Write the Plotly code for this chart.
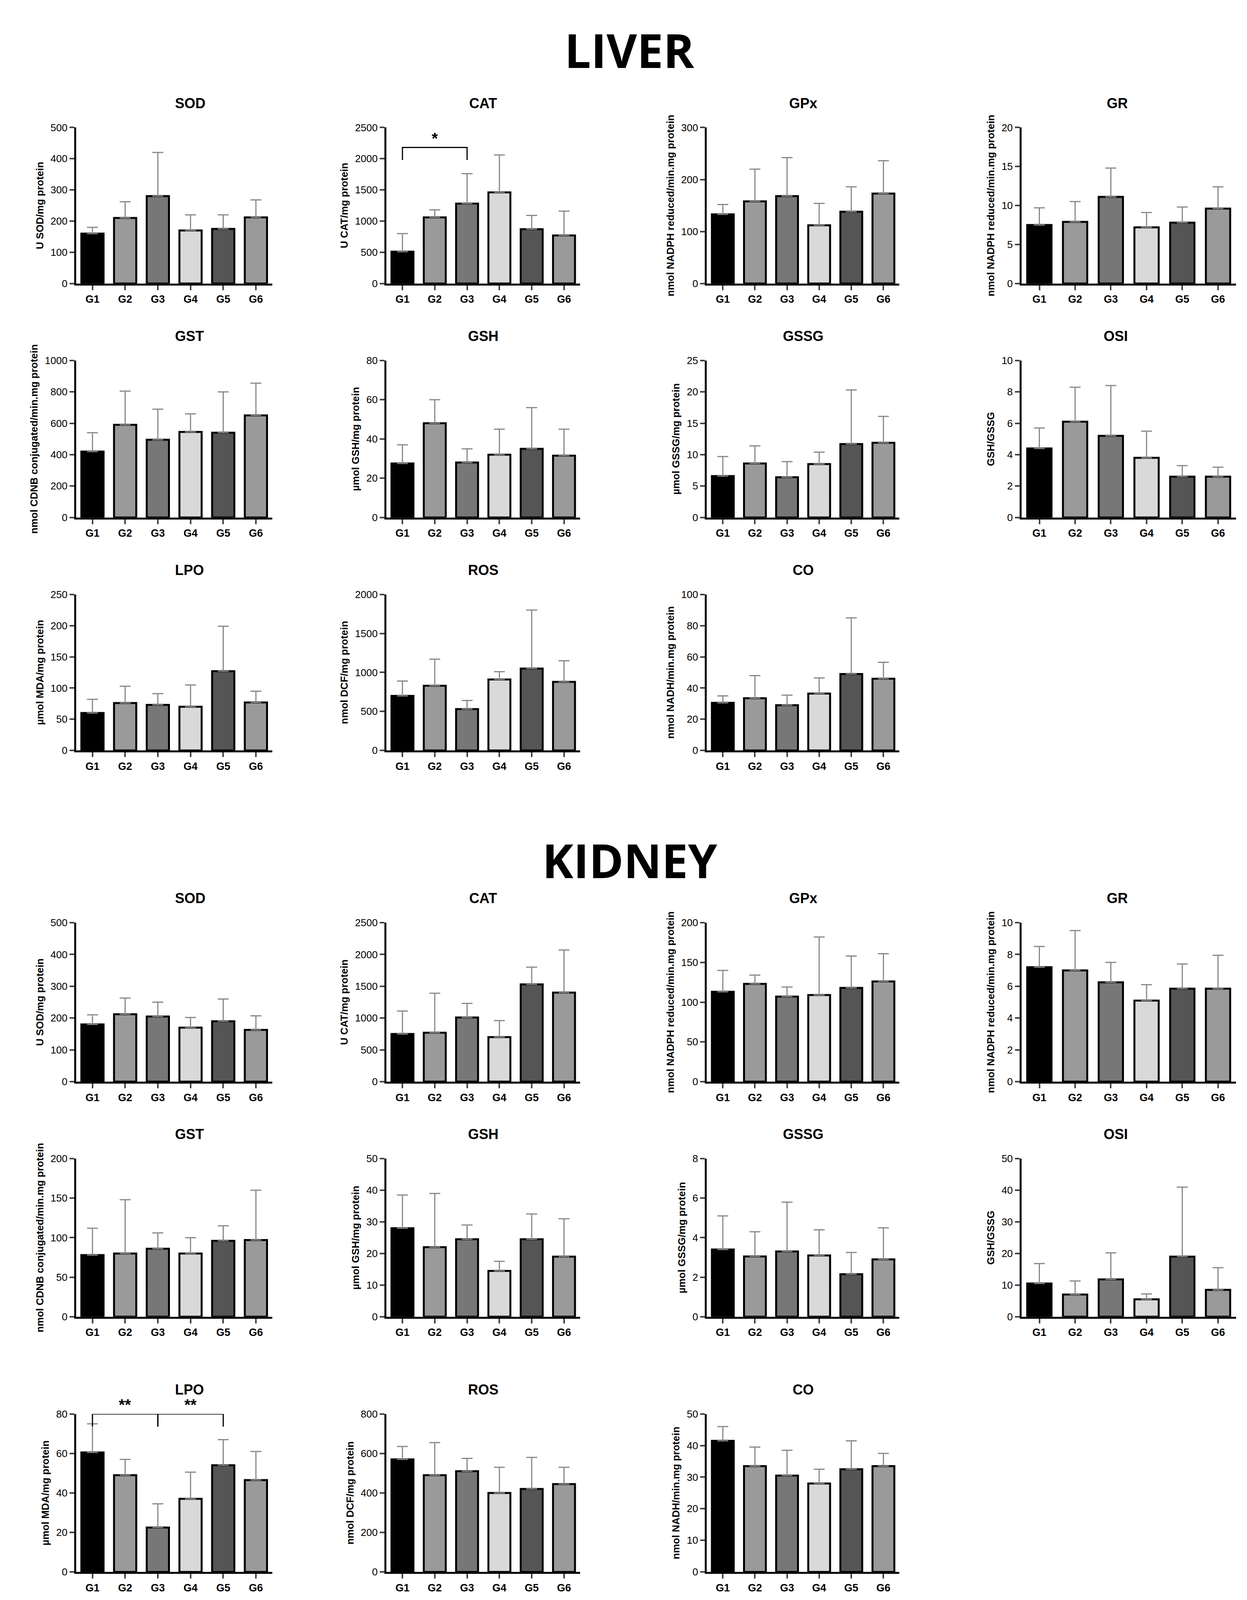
import plotly.graph_objects as go

groups = ['G1', 'G2', 'G3', 'G4', 'G5', 'G6']
bar_colors = ['#000000', '#9a9a9a', '#777777', '#d9d9d9', '#555555', '#9a9a9a']

# liver: (title, y label, means, mean+sd, y max, tick step)
liver = [
    ('SOD', 'U SOD/mg protein', [160, 210, 280, 170, 175, 212], [180, 262, 420, 220, 220, 268], 500, 100),
    ('CAT', 'U CAT/mg protein', [510, 1060, 1280, 1460, 870, 770], [800, 1180, 1760, 2060, 1090, 1160], 2500, 500),
    ('GPx', 'nmol NADPH reduced/min.mg protein', [133, 158, 168, 112, 138, 173], [152, 220, 242, 154, 186, 236], 300, 100),
    ('GR', 'nmol NADPH reduced/min.mg protein', [7.5, 7.9, 11.1, 7.2, 7.8, 9.6], [9.7, 10.5, 14.8, 9.1, 9.8, 12.4], 20, 5),
    ('GST', 'nmol CDNB conjugated/min.mg protein', [420, 590, 495, 545, 540, 650], [540, 805, 690, 660, 800, 855], 1000, 200),
    ('GSH', 'µmol GSH/mg protein', [27.5, 48, 28, 32, 35, 31.5], [37, 60, 35, 45, 56, 45], 80, 20),
    ('GSSG', 'µmol GSSG/mg protein', [6.6, 8.6, 6.4, 8.5, 11.7, 11.9], [9.7, 11.4, 8.9, 10.4, 20.3, 16.1], 25, 5),
    ('OSI', 'GSH/GSSG', [4.4, 6.1, 5.2, 3.8, 2.6, 2.6], [5.7, 8.3, 8.4, 5.5, 3.3, 3.2], 10, 2),
    ('LPO', 'µmol MDA/mg protein', [60, 76, 73, 70, 127, 77], [82, 103, 91, 105, 199, 95], 250, 50),
    ('ROS', 'nmol DCF/mg protein', [700, 830, 530, 910, 1050, 880], [890, 1170, 640, 1010, 1800, 1150], 2000, 500),
    ('CO', 'nmol NADH/min.mg protein', [30.5, 33.5, 29, 36.5, 49, 46], [35, 48, 35.5, 46.5, 85, 56.5], 100, 20),
]

kidney = [
    ('SOD', 'U SOD/mg protein', [180, 212, 205, 170, 190, 163], [210, 263, 250, 202, 260, 207], 500, 100),
    ('CAT', 'U CAT/mg protein', [750, 770, 1010, 700, 1530, 1400], [1110, 1390, 1230, 960, 1800, 2070], 2500, 500),
    ('GPx', 'nmol NADPH reduced/min.mg protein', [113, 123, 107, 109, 118, 126], [140, 134, 119, 182, 158, 161], 200, 50),
    ('GR', 'nmol NADPH reduced/min.mg protein', [7.2, 7.0, 6.25, 5.1, 5.85, 5.85], [8.5, 9.5, 7.5, 6.1, 7.4, 7.95], 10, 2),
    ('GST', 'nmol CDNB conjugated/min.mg protein', [78, 80, 86, 80, 96, 97], [112, 148, 106, 100, 115, 160], 200, 50),
    ('GSH', 'µmol GSH/mg protein', [28, 22, 24.5, 14.5, 24.5, 19], [38.5, 39, 29, 17.5, 32.5, 31], 50, 10),
    ('GSSG', 'µmol GSSG/mg protein', [3.4, 3.05, 3.3, 3.1, 2.15, 2.9], [5.1, 4.3, 5.8, 4.4, 3.25, 4.5], 8, 2),
    ('OSI', 'GSH/GSSG', [10.5, 7, 11.8, 5.5, 19, 8.5], [16.8, 11.3, 20.2, 7.2, 41, 15.5], 50, 10),
    ('LPO', 'µmol MDA/mg protein', [60.5, 49, 22.5, 37, 54, 46.5], [75, 57, 34.5, 50.5, 67, 61], 80, 20),
    ('ROS', 'nmol DCF/mg protein', [570, 490, 510, 400, 420, 445], [635, 655, 575, 530, 580, 530], 800, 200),
    ('CO', 'nmol NADH/min.mg protein', [41.5, 33.5, 30.5, 28, 32.5, 33.5], [46, 39.5, 38.5, 32.5, 41.5, 37.5], 50, 10),
]

# significance brackets: (section, panel index, from, to, level, label)
brackets = [
    ('liver', 1, 'G1', 'G3', 2180, '*'),
    ('kidney', 8, 'G1', 'G3', 80, '**'),
    ('kidney', 8, 'G3', 'G5', 80, '**'),
]

# layout in reference display coords (1088 x 1568)
W, H = 1088.0, 1568.0
col_x = [(64, 236), (336, 506), (617, 786), (893, 1081)]
liver_rows = [(117, 271), (347, 502), (578, 732)]
kidney_rows = [(902, 1059), (1135, 1291), (1387, 1543)]

font = 'Liberation Sans'
fig = go.Figure()
shapes = []
annotations = []
n = 0

for sec_name, panels, rows in [('liver', liver, liver_rows), ('kidney', kidney, kidney_rows)]:
    for i, (title, ylab, means, tops, ymax, dt) in enumerate(panels):
        n += 1
        r, c = divmod(i, 4)
        x0, x1 = col_x[c]
        top, bot = rows[r]
        xa = 'xaxis' if n == 1 else f'xaxis{n}'
        ya = 'yaxis' if n == 1 else f'yaxis{n}'
        xr = 'x' if n == 1 else f'x{n}'
        yr = 'y' if n == 1 else f'y{n}'
        fig.add_trace(go.Bar(
            x=groups, y=means, xaxis=xr, yaxis=yr, width=0.68,
            marker=dict(color=bar_colors, line=dict(color='black', width=5)),
            error_y=dict(type='data', symmetric=False,
                         array=[t - m for t, m in zip(tops, means)],
                         arrayminus=[0] * 6, color='#888888', thickness=3, width=14),
            showlegend=False,
        ))
        fig.layout[xa] = dict(
            domain=[x0 / W, x1 / W], anchor=yr, showline=True, linecolor='black', linewidth=5,
            ticks='outside', ticklen=12, tickwidth=4, tickfont=dict(family=font, size=27, color='black', weight='bold'),
            showgrid=False)
        fig.layout[ya] = dict(
            domain=[1 - bot / H, 1 - top / H], anchor=xr, range=[0, ymax], dtick=dt,
            showline=True, linecolor='black', linewidth=5, ticks='outside', ticklen=12, tickwidth=4,
            tickfont=dict(family=font, size=26, color='black'), showgrid=False, zeroline=False,
            title=dict(text=ylab, font=dict(family=font, size=26, color='black', weight='bold'), standoff=12))
        annotations.append(dict(
            text=f'<b>{title}</b>', x=(x0 + x1) / 2 / W, y=1 - (top - 24) / H, xref='paper', yref='paper',
            showarrow=False, font=dict(family=font, size=36, color='black'), yanchor='middle'))
        for s, p, ga, gb, lvl, lab in brackets:
            if s == sec_name and p == i:
                drop = ymax * 0.08
                shapes.append(dict(type='path', xref=xr, yref=yr,
                                   path=f'M {groups.index(ga)},{lvl - drop} L {groups.index(ga)},{lvl} '
                                        f'L {groups.index(gb)},{lvl} L {groups.index(gb)},{lvl - drop}',
                                   line=dict(color='black', width=3)))
                annotations.append(dict(text=f'<b>{lab}</b>', x=(groups.index(ga) + groups.index(gb)) / 2,
                                        y=lvl, xref=xr, yref=yr, showarrow=False, yanchor='bottom',
                                        font=dict(family=font, size=40, color='black')))

annotations.append(dict(text='<b>LIVER</b>', x=0.505, y=1 - 8 / H, xref='paper', yref='paper',
                        showarrow=False, yanchor='top', font=dict(family='Open Sans', size=120, color='black')))
annotations.append(dict(text='<b>KIDNEY</b>', x=0.505, y=1 - 808 / H, xref='paper', yref='paper',
                        showarrow=False, yanchor='top', font=dict(family='Open Sans', size=120, color='black')))

fig.update_layout(autosize=True, margin=dict(l=0, r=0, t=0, b=0),
                  plot_bgcolor='white', paper_bgcolor='white', bargap=0.3,
                  shapes=shapes, annotations=annotations)
fig.write_html('out.html', default_width='100%', default_height='100vh',
               config={'responsive': True})
